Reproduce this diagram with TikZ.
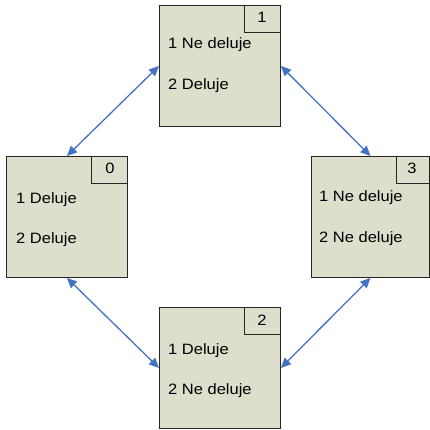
\documentclass[tikz,border=0pt]{standalone}
\usepackage{fontspec}
\setmainfont{Liberation Sans}[FakeStretch=1.1]
\usetikzlibrary{arrows.meta}
\definecolor{boxfill}{RGB}{221,223,204}
\definecolor{arrblue}{RGB}{68,114,196}
\begin{document}
\begin{tikzpicture}[x=1pt,y=-1pt,
  state/.style={draw=black!85,fill=boxfill,line width=0.9pt,inner sep=0,anchor=north west,minimum width=121pt,minimum height=121pt},
  numbox/.style={draw=black!85,line width=0.9pt,inner sep=0,anchor=north east,minimum width=36pt,minimum height=27pt},
  txt/.style={anchor=base west,inner sep=0,font=\fontsize{15pt}{18pt}\selectfont},
  num/.style={anchor=base,inner sep=0,font=\fontsize{15pt}{18pt}\selectfont},
  arr/.style={draw=arrblue,line width=1.3pt,{Triangle[length=10pt,width=9pt]}-{Triangle[length=10pt,width=9pt]}}]
\useasboundingbox (0,0) rectangle (430,430);
% boxes
\node[state] (b1) at (159,5) {};
\node[state] (b0) at (6,156) {};
\node[state] (b2) at (159,307) {};
\node[state,minimum width=118pt] (b3) at (311,156) {};
% number boxes
\node[numbox] (s1) at (b1.north east) {};
\node[numbox] (s0) at (b0.north east) {};
\node[numbox] (s2) at (b2.north east) {};
\node[numbox,minimum width=33pt] (s3) at (b3.north east) {};
\node[num] (n1) at (262,23) {1};
\node[num] (n0) at (110,174) {0};
\node[num] (n2) at (262,325) {2};
\node[num] (n3) at (412,174) {3};
% texts
\node[txt] (t1a) at (168,49) {1 Ne deluje};
\node[txt] (t1b) at (168,90) {2 Deluje};
\node[txt] (t0a) at (16,203) {1 Deluje};
\node[txt] (t0b) at (16,243) {2 Deluje};
\node[txt] (t2a) at (168,354) {1 Deluje};
\node[txt] (t2b) at (168,394) {2 Ne deluje};
\node[txt] (t3a) at (319,201) {1 Ne deluje};
\node[txt] (t3b) at (319,242) {2 Ne deluje};
% connectors
\draw[arr] (b0.north) -- (b1.west);
\draw[arr] (b1.east) -- (b3.north);
\draw[arr] (b0.south) -- (b2.west);
\draw[arr] (b2.east) -- (b3.south);
\end{tikzpicture}
\end{document}
